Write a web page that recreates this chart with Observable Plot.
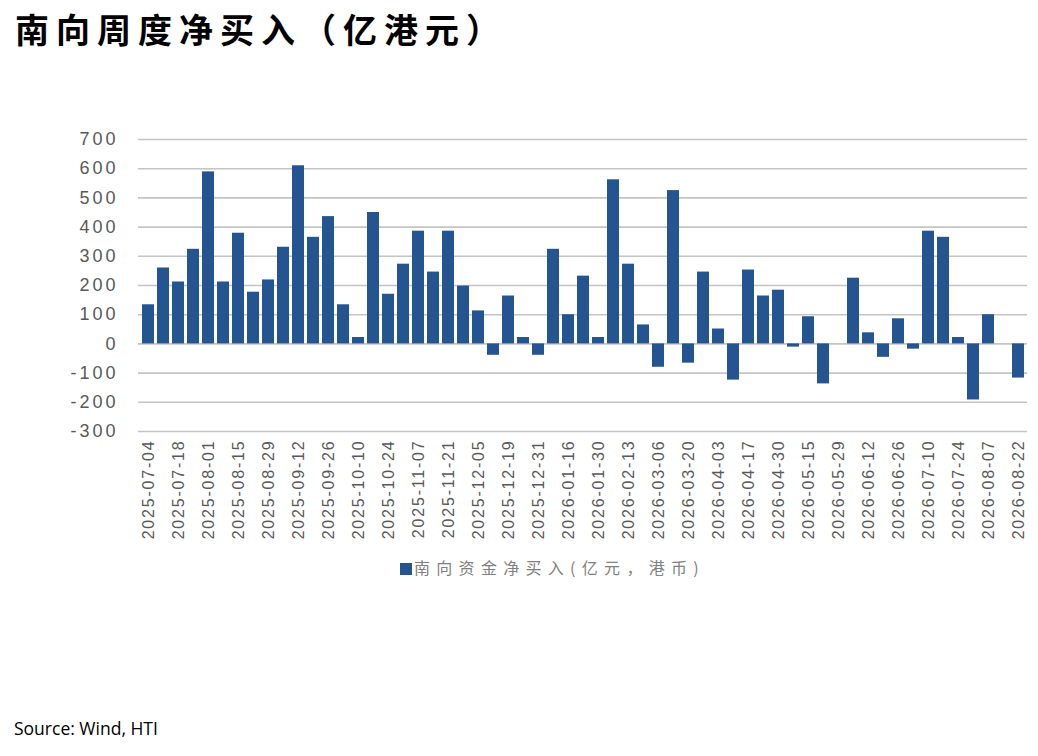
<!DOCTYPE html>
<html>
<head>
<meta charset="utf-8">
<script src="https://cdn.jsdelivr.net/npm/d3@7"></script>
<script src="https://cdn.jsdelivr.net/npm/@observablehq/plot@0.6"></script>
<style>
  html, body { margin: 0; padding: 0; background: #fff; }
  #wrap { position: relative; width: 1038px; height: 756px; overflow: hidden; }
  #title { position: absolute; left: 15px; top: 4px; font-family: "Noto Sans CJK SC", sans-serif; font-weight: 700; font-size: 34px; color: #000; letter-spacing: 7px; white-space: nowrap; }
  #chart { position: absolute; left: 0; top: 70px; }
  #legend { position: absolute; left: 400px; top: 555px; font-family: "Noto Sans CJK SC", sans-serif; font-size: 16px; color: #808080; letter-spacing: 6.3px; white-space: nowrap; }
  #legend .sw { display: inline-block; width: 12px; height: 12px; background: #255590; margin-right: 2px; vertical-align: -1px; }
  #caption { position: absolute; left: 14px; top: 716px; font-family: "Open Sans", sans-serif; font-size: 17.5px; color: #000; }
  #chart svg text { letter-spacing: 1.8px; }
  #chart svg g.yax text { letter-spacing: 3px; }
</style>
</head>
<body>
<div id="wrap">
  <div id="title">南向周度净买入（亿港元）</div>
  <div id="chart"></div>
  <div id="legend"><span class="sw"></span>南向资金净买入(亿元，港币)</div>
  <div id="caption">Source: Wind, HTI</div>
</div>
<script>
// Tick labels (every second week is labelled)
const tickLabels = [
  "2025-07-04","2025-07-18","2025-08-01","2025-08-15","2025-08-29","2025-09-12",
  "2025-09-26","2025-10-10","2025-10-24","2025-11-07","2025-11-21","2025-12-05",
  "2025-12-19","2025-12-31","2026-01-16","2026-01-30","2026-02-13","2026-03-06",
  "2026-03-20","2026-04-03","2026-04-17","2026-04-30","2026-05-15","2026-05-29",
  "2026-06-12","2026-06-26","2026-07-10","2026-07-24","2026-08-07","2026-08-22"
];
// Weekly southbound net buying (亿港元)
const netBuy = [
  134, 260, 212, 324, 589, 212, 379, 177, 219, 331,
  610, 365, 436, 134, 22, 450, 170, 273, 386, 246,
  386, 198, 113, -39, 164, 22, -39, 324, 100, 232,
  22, 562, 273, 65, -80, 525, -66, 246, 51, -124,
  253, 164, 184, -11, 93, -137, 0, 225, 38, -46,
  86, -18, 386, 365, 22, -192, 100, 0, -117
];
const yTicks = [-300, -200, -100, 0, 100, 200, 300, 400, 500, 600, 700];
const barColor = "#255590";

const data = netBuy.map((v, i) => ({i, v}));
const idx = d3.range(netBuy.length);

const chart = Plot.plot({
  width: 1038,
  height: 481,
  marginLeft: 138,
  marginRight: 11,
  marginTop: 69,
  marginBottom: 120,
  style: {fontFamily: "'Liberation Sans', Arial, sans-serif", background: "transparent"},
  x: {type: "band", domain: idx, paddingInner: 0.2, paddingOuter: 0.1, axis: null},
  y: {domain: [-300, 700], axis: null},
  marks: [
    Plot.ruleY(yTicks, {stroke: "#c4c4c4", strokeWidth: 1.6}),
    Plot.barY(data, {x: "i", y: "v", fill: barColor}),
    Plot.axisY(yTicks, {
      tickSize: 0, tickPadding: 20, fontSize: 18, color: "#595959", label: null,
      className: "yax", tickFormat: d => String(d)
    }),
    Plot.axisX(idx.filter(i => i % 2 === 0), {
      tickSize: 0, tickPadding: 8, tickRotate: -90, fontSize: 16, color: "#595959", label: null,
      tickFormat: i => tickLabels[i / 2]
    })
  ]
});
document.getElementById("chart").appendChild(chart);
</script>
</body>
</html>
